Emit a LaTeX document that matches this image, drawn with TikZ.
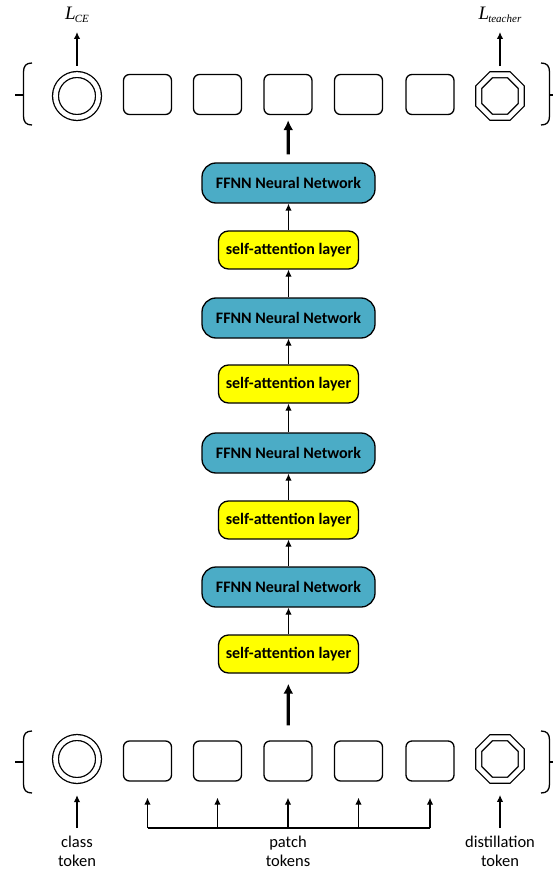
\documentclass[tikz,border=0pt]{standalone}
\usepackage{fontspec}
\setsansfont{Carlito}
\newfontfamily\lossfont{Liberation Serif}
\usetikzlibrary{shapes.geometric,arrows.meta}
\definecolor{ffnnblue}{HTML}{4BACC6}
\definecolor{attyellow}{HTML}{FFFF00}
\begin{document}
\begin{tikzpicture}[x=1pt,y=-1pt,line width=1.3pt,
  ffnn/.style={draw,fill=ffnnblue,rounded corners=14pt,minimum width=173pt,
    minimum height=40pt,inner sep=0pt,font=\sffamily\bfseries\fontsize{16}{19}\selectfont},
  selfatt/.style={draw,fill=attyellow,rounded corners=10pt,minimum width=140pt,
    minimum height=38pt,inner sep=0pt,font=\sffamily\bfseries\fontsize{16}{19}\selectfont},
  tokbox/.style={draw,rounded corners=6pt,minimum width=48pt,minimum height=40pt,inner sep=0pt},
  clstok/.style={draw,circle,double,double distance=4.6pt,minimum size=43pt,inner sep=0pt},
  disttok/.style={draw,regular polygon,regular polygon sides=8,double,double distance=4.6pt,
    minimum size=46pt,inner sep=0pt},
  flow/.style={-{Latex[length=7pt,width=6.5pt]},line width=1.3pt},
  bigflow/.style={-{Latex[length=10pt,width=10pt]},line width=3.2pt},
  lbl/.style={font=\sffamily\fontsize{16.5}{19}\selectfont,align=center,inner sep=0pt,anchor=north},
  loss/.style={font=\lossfont\itshape\fontsize{19}{20}\selectfont,inner sep=0pt},
  brace/.style={line width=1.3pt}
]
\useasboundingbox (0,0) rectangle (553,874);

% ---- output sequence ----
\node[clstok]  (tcls) at (77,96) {};
\node[tokbox]  (t1) at (147.5,94.5) {};
\node[tokbox]  (t2) at (217.5,94.5) {};
\node[tokbox]  (t3) at (288,94.5) {};
\node[tokbox]  (t4) at (358.5,94.5) {};
\node[tokbox]  (t5) at (430,94.5) {};
\node[disttok] (tdist) at (500,96) {};

% ---- loss labels ----
\node[loss] (lce) at (77,15) {L\kern-1pt\raisebox{-3pt}{\fontsize{11}{11}\selectfont CE}};
\node[loss] (lteach) at (500,15) {L\kern-1pt\raisebox{-3pt}{\fontsize{11}{11}\selectfont teacher}};
\coordinate (lcetip) at (77,32);
\coordinate (lteachtip) at (500,32);
\draw[flow,shorten <=8pt] (tcls) -- (lcetip);
\draw[flow,shorten <=8pt] (tdist) -- (lteachtip);

% ---- encoder stack ----
\node[selfatt] (sa1) at (288.5,654) {self-attention layer};
\node[ffnn]    (ff1) at (288.5,587) {FFNN Neural Network};
\node[selfatt] (sa2) at (288.5,520) {self-attention layer};
\node[ffnn]    (ff2) at (288.5,453) {FFNN Neural Network};
\node[selfatt] (sa3) at (288.5,384) {self-attention layer};
\node[ffnn]    (ff3) at (288.5,318) {FFNN Neural Network};
\node[selfatt] (sa4) at (288.5,250) {self-attention layer};
\node[ffnn]    (ff4) at (288.5,183) {FFNN Neural Network};

\draw[flow] (sa1) -- (ff1);
\draw[flow] (ff1) -- (sa2);
\draw[flow] (sa2) -- (ff2);
\draw[flow] (ff2) -- (sa3);
\draw[flow] (sa3) -- (ff3);
\draw[flow] (ff3) -- (sa4);
\draw[flow] (sa4) -- (ff4);
\draw[bigflow,shorten <=8pt,shorten >=5pt] (ff4) -- (t3);

% ---- input sequence ----
\node[clstok]  (bcls) at (77,759) {};
\node[tokbox]  (b1) at (147.5,761) {};
\node[tokbox]  (b2) at (217.5,761) {};
\node[tokbox]  (b3) at (288,761) {};
\node[tokbox]  (b4) at (358.5,761) {};
\node[tokbox]  (b5) at (430,761) {};
\node[disttok] (bdist) at (500,759) {};

\draw[bigflow,shorten <=15pt,shorten >=10pt] (b3) -- (sa1);

% ---- input arrows ----
\coordinate (cin) at (77,828);
\coordinate (p1) at (147.5,828);
\coordinate (p2) at (217.5,828);
\coordinate (p3) at (288,828);
\coordinate (p4) at (358.5,828);
\coordinate (p5) at (430,828);
\coordinate (din) at (500,828);
\draw (p1) -- (p5);
\draw[flow,shorten >=14pt] (cin) -- (bcls);
\foreach \i in {1,...,5} {\draw[flow,shorten >=16pt] (p\i) -- (b\i);}
\draw[flow,shorten >=14pt] (din) -- (bdist);

\node[lbl] (clab) at (77,835) {class\\token};
\node[lbl] (plab) at (288,835) {patch\\tokens};
\node[lbl] (dlab) at (500,835) {distillation\\token};

% ---- sequence braces ----
\draw[brace] (32,63) .. controls (26,63) and (23.5,66) .. (23.5,72) -- (23.5,116)
  .. controls (23.5,122) and (26,125) .. (32,125);
\draw[brace] (15,95) -- (23.5,95);
\draw[brace] (541,63) .. controls (547,63) and (549.5,66) .. (549.5,72) -- (549.5,116)
  .. controls (549.5,122) and (547,125) .. (541,125);
\draw[brace] (549.5,95) -- (553,95);

\draw[brace] (32,731) .. controls (26,731) and (23.5,734) .. (23.5,740) -- (23.5,784)
  .. controls (23.5,790) and (26,793) .. (32,793);
\draw[brace] (15,762) -- (23.5,762);
\draw[brace] (541,731) .. controls (547,731) and (549.5,734) .. (549.5,740) -- (549.5,784)
  .. controls (549.5,790) and (547,793) .. (541,793);
\draw[brace] (549.5,762) -- (553,762);
\end{tikzpicture}
\end{document}
